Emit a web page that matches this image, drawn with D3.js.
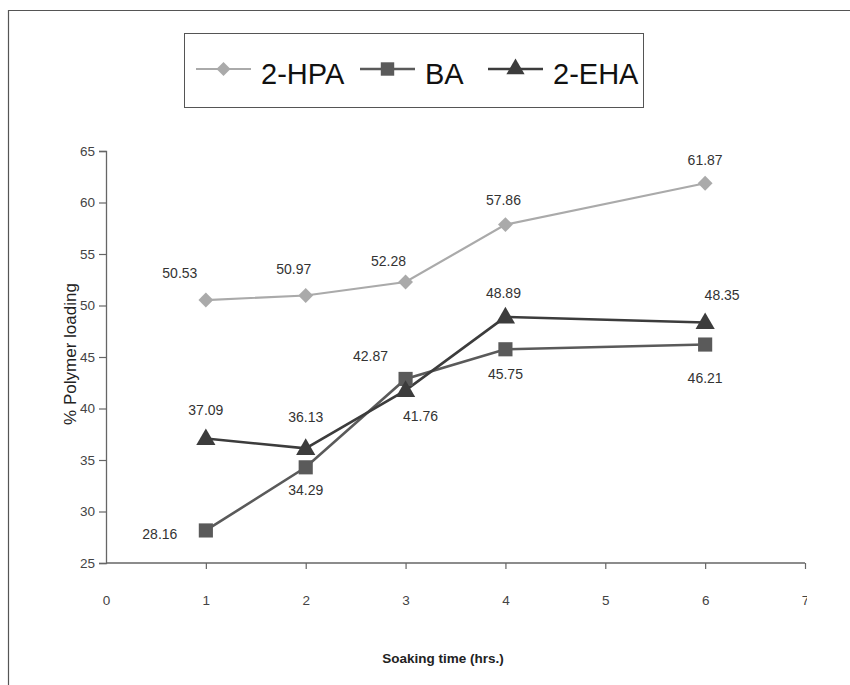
<!DOCTYPE html>
<html><head><meta charset="utf-8">
<script src="https://cdn.jsdelivr.net/npm/d3@7"></script>
<style>body{margin:0;background:#fff}svg{display:block}</style>
</head><body>
<svg id="c" width="850" height="685"></svg>
<script>
const xValues = [1, 2, 3, 4, 6];
const seriesNames = ["2-HPA", "BA", "2-EHA"];
const hpa = [50.53, 50.97, 52.28, 57.86, 61.87];
const ba = [28.16, 34.29, 42.87, 45.75, 46.21];
const eha = [37.09, 36.13, 41.76, 48.89, 48.35];
const xTicks = [0, 1, 2, 3, 4, 5, 6, 7];
const yTicks = [25, 30, 35, 40, 45, 50, 55, 60, 65];

// label offsets (dx, dy) relative to point, styling only
const hpaOff = [[-26,-26],[-12,-25],[-17,-20],[-2,-23],[0,-22]];
const baOff = [[-46,5],[0,24],[-35,-22],[0,26],[0,35]];
const ehaOff = [[0,-27],[0,-30],[15,27],[-2,-23],[17,-26]];

const colors = ["#aaaaaa", "#5a5a5a", "#3c3c3c"];
const symbols = [d3.symbolSquare, d3.symbolSquare, d3.symbolTriangle];
const symRot = [45, 0, 0];
const symSizes = [110, 200, 160];
const data = [hpa, ba, eha];
const offs = [hpaOff, baOff, ehaOff];

const svg = d3.select("#c");
const x = d3.scaleLinear().domain([0, 7]).range([106, 805]);
const y = d3.scaleLinear().domain([25, 65]).range([563, 151]);

const font = "Arial, 'Liberation Sans', sans-serif";

// axes
const yAxis = svg.append("g").attr("transform", "translate(106,0)")
  .call(d3.axisLeft(y).tickValues(yTicks).tickSize(7).tickPadding(4).tickFormat(d3.format("d")));
const xAxis = svg.append("g").attr("transform", "translate(0,563)")
  .call(d3.axisBottom(x).tickValues(xTicks).tickSize(6).tickPadding(26).tickFormat(d3.format("d")));
[yAxis, xAxis].forEach(g => {
  g.select(".domain").attr("stroke", "#666").attr("stroke-width", 1.3);
  g.selectAll(".tick line").attr("stroke", "#666").attr("stroke-width", 1.2);
  g.selectAll(".tick text").attr("fill", "#444").style("font-family", font).style("font-size", "13.5px");
});
xAxis.select(".domain").attr("d", "M106,0H805");
xAxis.selectAll(".tick").filter(d => d === 0).select("line").remove();

// series
const line = d3.line().x((d, i) => x(xValues[i])).y(d => y(d));
data.forEach((vals, s) => {
  svg.append("path").datum(vals).attr("d", line).attr("fill", "none")
    .attr("stroke", colors[s]).attr("stroke-width", s === 0 ? 2.2 : 2.6);
});
data.forEach((vals, s) => {
  svg.selectAll(null).data(vals).enter().append("path")
    .attr("d", d3.symbol().type(symbols[s]).size(symSizes[s]))
    .attr("transform", (d, i) => `translate(${x(xValues[i])},${y(d) + (s === 2 ? 1 : 0)}) rotate(${symRot[s]})`)
    .attr("fill", colors[s]);
  svg.selectAll(null).data(vals).enter().append("text")
    .attr("x", (d, i) => x(xValues[i]) + offs[s][i][0])
    .attr("y", (d, i) => y(d) + offs[s][i][1])
    .attr("text-anchor", "middle").attr("dominant-baseline", "middle")
    .attr("fill", "#333").style("font-family", font).style("font-size", "14px")
    .text(d => d.toFixed(2));
});

// right edge of the scanned page is cut off
svg.append("rect").attr("x", 807).attr("y", 14).attr("width", 43).attr("height", 671).attr("fill", "#fff");

// frame
svg.append("line").attr("x1", 8).attr("x2", 850).attr("y1", 10.5).attr("y2", 10.5).attr("stroke", "#555").attr("stroke-width", 1.2);
svg.append("line").attr("x1", 8.5).attr("x2", 8.5).attr("y1", 10).attr("y2", 685).attr("stroke", "#555").attr("stroke-width", 1.2);

// axis titles
svg.append("text").attr("x", 443).attr("y", 663).attr("text-anchor", "middle")
  .style("font-family", font).style("font-size", "13.5px").style("font-weight", "bold").attr("fill", "#222")
  .text("Soaking time (hrs.)");
svg.append("text").attr("transform", "translate(76,354) rotate(-90)").attr("text-anchor", "middle")
  .style("font-family", font).style("font-size", "17px").attr("fill", "#222")
  .text("% Polymer loading");

// legend
const lg = svg.append("g");
lg.append("rect").attr("x", 184.5).attr("y", 33.5).attr("width", 459).attr("height", 74)
  .attr("fill", "#fff").attr("stroke", "#555").attr("stroke-width", 1);
const legX = [196, 360, 488];
seriesNames.forEach((n, s) => {
  const g = lg.append("g").attr("transform", `translate(${legX[s]},69)`);
  g.append("line").attr("x1", 0).attr("x2", 55).attr("stroke", colors[s]).attr("stroke-width", s === 0 ? 2.2 : 2.6);
  g.append("path").attr("d", d3.symbol().type(symbols[s]).size(symSizes[s] * 0.9))
    .attr("transform", `translate(27.5,0) rotate(${symRot[s]})`).attr("fill", colors[s]);
  g.append("text").attr("x", 65).attr("y", 14.5)
    .style("font-family", font).style("font-size", "29px").attr("fill", "#111").text(n);
});
</script>
</body></html>
